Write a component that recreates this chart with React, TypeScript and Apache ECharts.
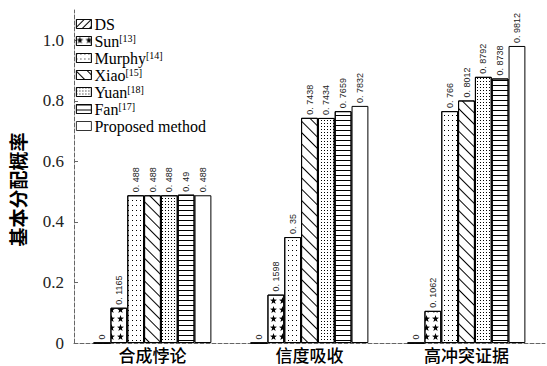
import React, { useEffect, useRef } from "react";
import * as echarts from "echarts";

const categories = ["合成悖论", "信度吸收", "高冲突证据"];
const seriesNames = ["DS", "Sun[13]", "Murphy[14]", "Xiao[15]", "Yuan[18]", "Fan[17]", "Proposed method"];
const dsValues = [0, 0, 0];
const sunValues = [0.1165, 0.1598, 0.1062];
const murphyValues = [0.488, 0.35, 0.766];
const xiaoValues = [0.488, 0.7438, 0.8012];
const yuanValues = [0.488, 0.7434, 0.8792];
const fanValues = [0.49, 0.7659, 0.8738];
const proposedValues = [0.488, 0.7832, 0.9812];
const yTicks = [0, 0.2, 0.4, 0.6, 0.8, 1.0];

const STAR = "path://M50,0 L62,36 L100,38 L69,60 L80,100 L50,77 L20,100 L31,60 L0,38 L38,36 Z";

const decals: any[] = [
  { symbol: "rect", symbolSize: 1, dashArrayX: [1, 0], dashArrayY: [1, 4], rotation: -Math.PI / 4, color: "#000" },
  { symbol: STAR, symbolSize: 1, dashArrayX: [7, 2], dashArrayY: [7, 2], rotation: 0, color: "#000" },
  { symbol: "rect", symbolSize: 1, dashArrayX: [1, 3], dashArrayY: [1, 4], rotation: 0, color: "#000" },
  { symbol: "rect", symbolSize: 1, dashArrayX: [1, 0], dashArrayY: [1, 7], rotation: Math.PI / 4, color: "#000" },
  { symbol: "rect", symbolSize: 1, dashArrayX: [1, 2], dashArrayY: [1, 2], rotation: 0, color: "#000" },
  { symbol: "rect", symbolSize: 1, dashArrayX: [1, 0], dashArrayY: [1, 4], rotation: 0, color: "#000" },
  null,
];

const allValues = [dsValues, sunValues, murphyValues, xiaoValues, yuanValues, fanValues, proposedValues];

function fmt(v: number): string {
  if (v === 0) return "0";
  return "0. " + String(v).slice(2);
}

export default function App() {
  const ref = useRef<HTMLDivElement>(null);
  useEffect(() => {
    if (!ref.current) return;
    const chart = echarts.init(ref.current, undefined, { renderer: "svg" });
    const series = seriesNames.map((name, i) => ({
      name,
      type: "bar",
      data: allValues[i],
      barGap: "0%",
      barCategoryGap: "25%",
      itemStyle: {
        color: "#fff",
        borderColor: "#000",
        borderWidth: 1,
        decal: decals[i] ? decals[i] : "none",
      },
      label: {
        show: true,
        position: "top",
        rotate: 90,
        align: "left",
        verticalAlign: "middle",
        distance: 3,
        fontSize: 9,
        fontFamily: "Liberation Sans",
        color: "#222",
        formatter: (p: any) => fmt(p.value),
      },
    }));
    chart.setOption({
      animation: false,
      backgroundColor: "#fff",
      grid: { left: 68, right: 2, top: 10, bottom: 23 },
      legend: {
        orient: "vertical",
        left: 71,
        top: 11,
        itemGap: 1,
        itemWidth: 15,
        itemHeight: 9,
        icon: "rect",
        data: seriesNames,
        itemStyle: { borderWidth: 0.8 },
        formatter: (name: string) => {
          const m = name.match(/^(.*)\[(\d+)\]$/);
          if (m) return `{n|${m[1]}}{s|[${m[2]}]}`;
          return `{n|${name}}`;
        },
        textStyle: {
          fontFamily: "Liberation Serif",
          fontSize: 16,
          fontWeight: "normal",
          color: "#000",
          padding: [0, 0, 0, -2],
          rich: {
            n: { fontFamily: "Liberation Serif", fontSize: 16, lineHeight: 16, fontWeight: "normal", color: "#000" },
            s: { fontFamily: "Liberation Serif", fontSize: 10, lineHeight: 10, fontWeight: "normal", color: "#000", padding: [0, 0, 6, 0] },
          },
        },
      },
      xAxis: {
        type: "category",
        data: categories,
        axisTick: { show: false },
        axisLine: { lineStyle: { color: "#666", type: "dashed", width: 1 } },
        axisLabel: {
          margin: 2,
          fontSize: 17,
          lineHeight: 18,
          fontWeight: 500,
          fontFamily: "Noto Sans CJK SC",
          color: "#000",
        },
      },
      yAxis: {
        type: "value",
        min: 0,
        max: 1.1,
        interval: 0.2,
        name: "基本分配概率",
        nameLocation: "middle",
        nameGap: 47,
        nameRotate: 90,
        nameTextStyle: { fontFamily: "Noto Sans CJK SC", fontSize: 19, fontWeight: "bold", color: "#000", padding: [0, 0, 0, -26] },
        axisLine: { show: true, lineStyle: { color: "#666", type: "dashed", width: 1 } },
        axisTick: { show: true, inside: true, length: 4, lineStyle: { color: "#666" } },
        splitLine: { show: false },
        axisLabel: {
          margin: 10,
          fontSize: 17,
          fontFamily: "Liberation Serif",
          color: "#222",
          showMaxLabel: false,
          formatter: (v: number) => {
            const t = yTicks.find((y) => Math.abs(y - v) < 1e-6);
            if (t === undefined) return "";
            return t === 0 ? "0" : t.toFixed(1);
          },
        },
      },
      series,
    });
    return () => chart.dispose();
  }, []);
  return <div ref={ref} style={{ width: 547, height: 366, position: "absolute", left: 0, top: 0 }} />;
}
